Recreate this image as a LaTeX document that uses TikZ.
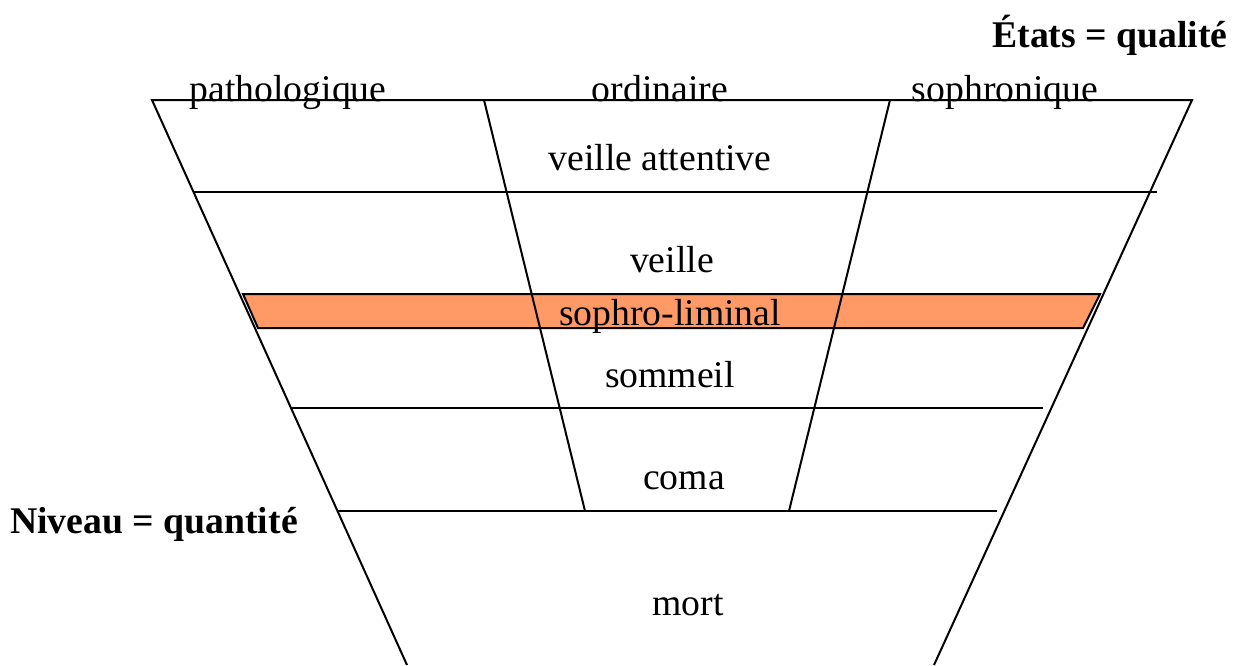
\documentclass[tikz,border=0pt]{standalone}
\usepackage{fontspec}
\setmainfont{Liberation Serif}
\definecolor{bandorange}{RGB}{255,153,102}
\begin{document}
\begin{tikzpicture}[x=0.5pt,y=-0.5pt,
  rule/.style={line width=1pt,black},
  lbl/.style={inner sep=0pt,anchor=base,font=\fontsize{18.85}{22}\selectfont},
  title/.style={lbl,font=\fontsize{18.85}{22}\selectfont\bfseries}]
\useasboundingbox (0,0) rectangle (1242,665);

% funnel outline and column separators
\coordinate (TL) at (152,100);
\coordinate (TR) at (1192,100);
\coordinate (BL) at (407,665);
\coordinate (BR) at (934,665);
\coordinate (ITL) at (484,100);
\coordinate (IBL) at (585,511);
\coordinate (ITR) at (890,100);
\coordinate (IBR) at (789,511);

% orange band (sophro-liminal)
\filldraw[rule,fill=bandorange] (243,294) -- (1100,294) -- (1083,328) -- (258,328) -- cycle;

\draw[rule] (BL) -- (TL) -- (TR) -- (BR);
\draw[rule] (ITL) -- (IBL);
\draw[rule] (ITR) -- (IBR);

% level separators
\draw[rule] (193,192) -- (1157,192);
\draw[rule] (292,408) -- (1043,408);
\draw[rule] (337,511) -- (997,511);

% column headings
\node[lbl] (patho) at (288,101) {pathologique};
\node[lbl] (ordi) at (660,101) {ordinaire};
\node[lbl] (sophro) at (1005,101) {sophronique};

% levels
\node[lbl] (va) at (660,170) {veille attentive};
\node[lbl] (ve) at (672,272) {veille};
\node[lbl] (sl) at (670,325) {sophro-liminal};
\node[lbl] (so) at (670,387) {sommeil};
\node[lbl] (co) at (684,489) {coma};
\node[lbl] (mo) at (688,615) {mort};

% axis titles
\node[title] (etats) at (1110,47) {États = qualité};
\node[title] (niveau) at (154,533) {Niveau = quantité};
\end{tikzpicture}
\end{document}
